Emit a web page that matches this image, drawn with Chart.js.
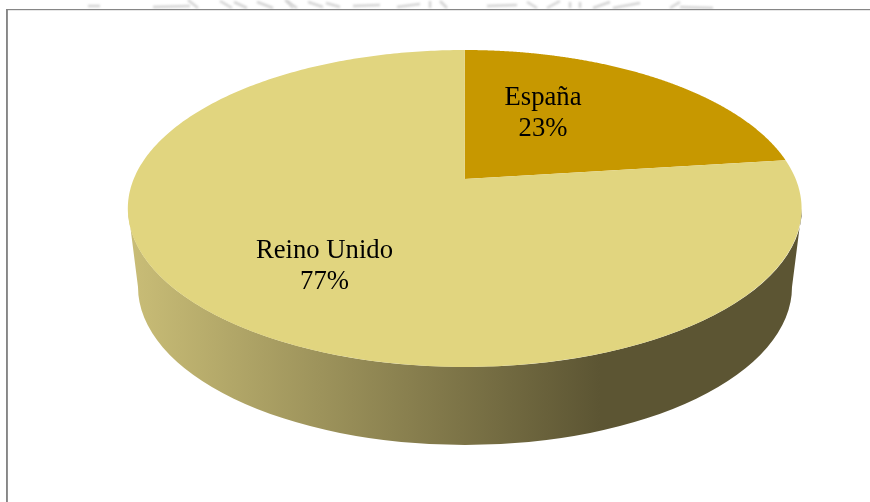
<!DOCTYPE html>
<html>
<head>
<meta charset="utf-8">
<style>html,body{margin:0;padding:0;background:#fff;overflow:hidden}canvas{display:block}</style>
<script src="https://cdn.jsdelivr.net/npm/chart.js@4"></script>
</head>
<body>
<canvas id="c" width="870" height="502"></canvas>
<script>
const categories = ['España', 'Reino Unido'];
const shares = [23, 77];
const sliceColors = ['#C79800', '#E1D57F'];

// Tilted-disc projection: unit circle -> picture
const P = {cx:464.7, apexY:179, a:119.7, c:-0.186, d:331};
function project(x, y){
  const w = 1 + P.c*y;
  return [P.cx + P.d*x/w, (P.a*y + P.apexY)/w];
}
const WALL = {cx:465, cy:287, rx:327, ry:158};
const TOP = {cx:465, cy:208.5, rx:337, ry:158.5};
const labelSpots = [[543,98,129],[324.5,251,282]];
// faint remains of a stamp showing above the frame
const stampStrokes = [
  [88,6,100,6],[153,7,190,6],[188,0,198,8],[220,1,232,8],[234,2,247,8],
  [257,2,273,8],[287,1,293,8],[285,0,297,8],[308,2,323,7],[326,3,340,7],
  [353,6,380,5],[397,7,420,4],[430,1,430,8],[440,1,447,8],[487,6,517,5],
  [527,2,537,8],[547,8,560,1],[570,2,570,8],[580,2,580,8],[593,8,610,2],
  [613,8,640,3],[670,8,680,2],[680,7,713,8]
];

const disc3d = {
  id:'disc3d',
  beforeDatasetDraw(chart, args){
    const ctx = chart.ctx, arcs = chart.getDatasetMeta(args.index).data;
    ctx.save();
    // stamp residue
    ctx.save();
    ctx.beginPath(); ctx.rect(0,0,870,9); ctx.clip();
    ctx.filter = 'blur(1px)';
    ctx.strokeStyle = '#d4d4d4';
    ctx.lineWidth = 2.5;
    stampStrokes.forEach(s=>{
      ctx.beginPath(); ctx.moveTo(s[0],s[1]); ctx.lineTo(s[2],s[3]); ctx.stroke();
    });
    ctx.restore();
    // frame
    ctx.fillStyle = '#868686';
    ctx.fillRect(6,9,864,1.2);
    ctx.fillRect(6,9,1.9,493);
    // side wall
    const g = ctx.createLinearGradient(135,0,600,0);
    g.addColorStop(0,'#C8BC76');
    g.addColorStop(1,'#5C5533');
    ctx.fillStyle = g;
    ctx.beginPath();
    ctx.ellipse(TOP.cx,TOP.cy,TOP.rx,TOP.ry,0,Math.PI,0,true);
    ctx.lineTo(WALL.cx+WALL.rx,WALL.cy);
    ctx.ellipse(WALL.cx,WALL.cy,WALL.rx,WALL.ry,0,0,Math.PI,false);
    ctx.closePath();
    ctx.fill();
    // top face from the library's arc angles
    arcs.forEach((arc,i)=>{
      const p = arc.getProps(['startAngle','endAngle'],true);
      ctx.beginPath();
      ctx.moveTo(P.cx,P.apexY);
      const n = 360;
      for(let k=0;k<=n;k++){
        const t = p.startAngle + (p.endAngle-p.startAngle)*k/n;
        const q = project(Math.cos(t),Math.sin(t));
        ctx.lineTo(q[0],q[1]);
      }
      ctx.closePath();
      ctx.fillStyle = sliceColors[i];
      ctx.fill();
    });
    // labels
    const total = shares.reduce((s,v)=>s+v,0);
    ctx.fillStyle = '#000';
    ctx.font = '26.67px "Liberation Serif"';
    ctx.textAlign = 'center';
    ctx.textBaseline = 'middle';
    categories.forEach((name,i)=>{
      const s = labelSpots[i];
      ctx.fillText(name,s[0],s[1]);
      ctx.fillText(Math.round(shares[i]/total*100)+'%',s[0],s[2]);
    });
    ctx.restore();
    return false;
  }
};

new Chart(document.getElementById('c'),{
  type:'pie',
  data:{labels:categories,datasets:[{data:shares,backgroundColor:sliceColors,borderWidth:0}]},
  options:{
    responsive:false,animation:false,
    plugins:{legend:{display:false},tooltip:{enabled:false}}
  },
  plugins:[disc3d]
});
</script>
</body>
</html>
